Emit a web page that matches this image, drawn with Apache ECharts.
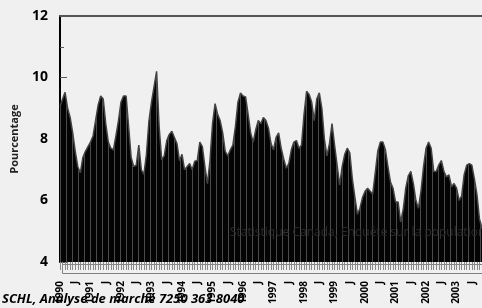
<!DOCTYPE html>
<html>
<head>
<meta charset="utf-8">
<script src="https://cdn.jsdelivr.net/npm/echarts@6/dist/echarts.min.js"></script>
<style>
  html, body { margin: 0; padding: 0; background: #f0f0f0; }
  #chart { width: 482px; height: 308px; }
</style>
</head>
<body>
<div id="chart"></div>
<script>
// taux mensuel, janvier 1990 -> novembre 2003
const startYear = 1990
const rate = [
  9.05, 9.3, 9.52, 9.0, 8.7, 8.2, 7.6, 7.1, 6.9, 7.4, 7.6, 7.75,
  7.9, 8.1, 8.6, 9.1, 9.4, 9.3, 8.5, 7.9, 7.7, 7.65, 8.1, 8.6,
  9.2, 9.4, 9.4, 8.4, 7.4, 7.1, 7.15, 7.8, 7.0, 6.85, 7.5, 8.6,
  9.2, 9.7, 10.2, 8.4, 7.33, 7.45, 7.95, 8.15, 8.25, 8.05, 7.85, 7.3,
  7.5, 7.0, 7.1, 7.2, 7.0, 7.28, 7.3, 7.9, 7.75, 7.1, 6.55, 7.3,
  8.5, 9.15, 8.8, 8.6, 8.2, 7.6, 7.45, 7.65, 7.8, 8.4, 9.2, 9.5,
  9.4, 9.37, 8.8, 8.2, 7.9, 8.3, 8.6, 8.5, 8.7, 8.6, 8.35, 7.85,
  7.65, 8.05, 8.2, 7.7, 7.35, 7.05, 7.2, 7.65, 7.9, 7.95, 7.7, 7.8,
  8.8, 9.55, 9.45, 9.2, 8.6, 9.3, 9.5, 9.0, 8.0, 7.45, 7.85, 8.5,
  7.8, 7.15, 6.5, 7.1, 7.5, 7.7, 7.55, 6.7, 6.1, 5.55, 5.75, 6.1,
  6.3, 6.4, 6.3, 6.2, 6.9, 7.6, 7.9, 7.9, 7.65, 7.1, 6.6, 6.4,
  5.95, 5.95, 5.3, 5.7, 6.4, 6.8, 6.95, 6.55, 6.0, 5.75, 6.3, 7.1,
  7.7, 7.9, 7.7, 6.95, 6.94, 7.15, 7.3, 6.95, 6.77, 6.83, 6.45, 6.55,
  6.4, 6.0, 6.15, 6.85, 7.15, 7.2, 7.15, 6.7, 6.2, 5.4, 5.1
]
const months = rate.map((v, i) => {
  const y = startYear + Math.floor(i / 12)
  const m = (i % 12) + 1
  return y + '-' + (m < 10 ? '0' + m : m)
})
const yTicks = [4, 6, 8, 10, 12]

// motif de remplissage : noir avec rayures verticales grises
const pat = document.createElement('canvas')
pat.width = 6
pat.height = 4
const ctx = pat.getContext('2d')
ctx.fillStyle = '#040404'
ctx.fillRect(0, 0, 6, 4)
ctx.fillStyle = '#4a4a4a'
ctx.fillRect(0, 0, 1, 4)

const font = '"Open Sans"'

const chart = echarts.init(document.getElementById('chart'))
chart.setOption({
  backgroundColor: '#f0f0f0',
  animation: false,
  grid: {left: 60, right: 0, top: 16, bottom: 46},
  xAxis: [
    {
      type: 'category',
      data: months,
      boundaryGap: false,
      axisLine: {show: false},
      axisTick: {show: true, interval: 0, length: 8, lineStyle: {color: '#8a8a8a', width: 1}},
      axisLabel: {
        interval: 5,
        rotate: 90,
        margin: 19,
        color: '#000',
        fontFamily: font,
        fontWeight: 'bold',
        fontSize: 10,
        formatter: (v) => v.slice(5) === '01' ? v.slice(0, 4) : 'J'
      },
      splitLine: {show: false}
    },
    {
      type: 'category',
      data: months,
      position: 'top',
      boundaryGap: false,
      axisLine: {show: true, lineStyle: {color: '#555', width: 2}},
      axisTick: {show: false},
      axisLabel: {show: false}
    }
  ],
  yAxis: {
    type: 'value',
    min: yTicks[0],
    max: yTicks[yTicks.length - 1],
    interval: 2,
    name: 'Pourcentage',
    nameLocation: 'middle',
    nameRotate: 90,
    nameGap: 40,
    nameTextStyle: {color: '#222', fontFamily: font, fontWeight: 'bold', fontSize: 11},
    axisLine: {show: true, lineStyle: {color: '#000', width: 2}},
    axisTick: {show: true, inside: true, length: 7, lineStyle: {color: '#555'}},
    minorTick: {show: true, splitNumber: 2, length: 4, lineStyle: {color: '#555'}},
    axisLabel: {margin: 12, color: '#000', fontFamily: font, fontWeight: 'bold', fontSize: 14},
    splitLine: {show: false}
  },
  series: [
    {
      type: 'line',
      data: rate,
      symbol: 'none',
      lineStyle: {color: '#444', width: 1.5},
      areaStyle: {origin: 'start', color: {image: pat, repeat: 'repeat'}, opacity: 1}
    }
  ],
  graphic: [
    {
      type: 'rect',
      left: 60, top: 262,
      shape: {width: 422, height: 9},
      style: {fill: 'none', stroke: '#808080', lineWidth: 1},
      silent: true
    },
    {
      type: 'text',
      left: 230, top: 227,
      z: 10,
      style: {text: 'Statistique Canada, Enquête sur la population active', fill: '#2c2c2c',
        font: '12px "Open Sans"'}
    },
    {
      type: 'text',
      left: 2, top: 293,
      z: 10,
      style: {text: 'SCHL, Analyse de marché 7250 363 8040', fill: '#000',
        font: 'italic bold 13px "Open Sans"'}
    }
  ]
})
</script>
</body>
</html>
